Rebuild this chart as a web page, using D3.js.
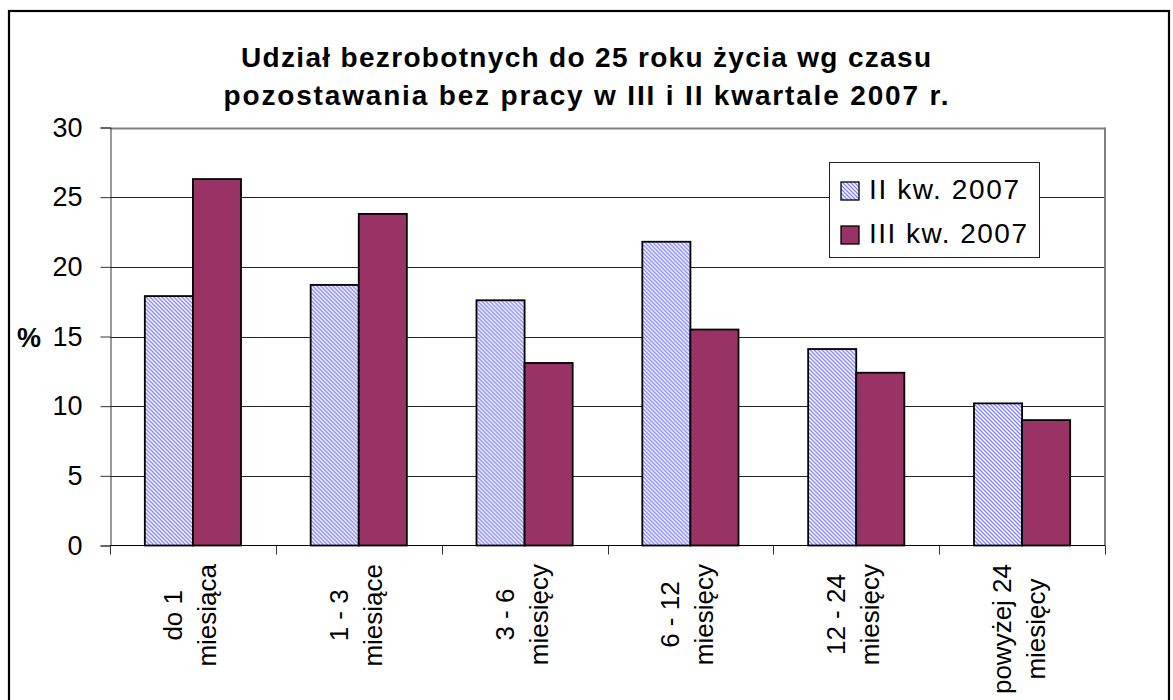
<!DOCTYPE html>
<html>
<head>
<meta charset="utf-8">
<script src="https://cdn.jsdelivr.net/npm/d3@7"></script>
<style>
  html, body { margin: 0; padding: 0; background: #fff; }
  svg { display: block; font-family: Arial, "Liberation Sans", sans-serif; }
</style>
</head>
<body>
<svg id="chart" width="1173" height="700"></svg>
<script>
const categories = [
  ["do 1", "miesiąca"],
  ["1 - 3", "miesiące"],
  ["3 - 6", "miesięcy"],
  ["6 - 12", "miesięcy"],
  ["12 - 24", "miesięcy"],
  ["powyżej 24", "miesięcy"]
];
const seriesNames = ["II kw. 2007", "III kw. 2007"];
const seriesII = [17.9, 18.7, 17.6, 21.8, 14.1, 10.2];
const seriesIII = [26.3, 23.8, 13.1, 15.5, 12.4, 9.0];
const yTicks = [0, 5, 10, 15, 20, 25, 30];
const titleLines = ["Udział bezrobotnych do 25 roku życia wg czasu", "pozostawania bez pracy w III i II kwartale 2007 r."];

const svg = d3.select("#chart");
const W = 1173, H = 700;
const plot = { left: 110, right: 1105, top: 127.5, bottom: 545.5 };

// defs: hatch pattern
const defs = svg.append("defs");
const pat = defs.append("pattern").attr("id", "hatch").attr("patternUnits", "userSpaceOnUse")
  .attr("width", 4).attr("height", 4);
pat.append("rect").attr("width", 4).attr("height", 4).attr("fill", "#fff");
pat.append("path").attr("d", "M-1,-1 L5,5 M-1,3 L1,5 M3,-1 L5,1")
  .attr("stroke", "#8080ff").attr("stroke-width", 1.3);

// background + outer border
svg.append("rect").attr("x", 0).attr("y", 0).attr("width", W).attr("height", H).attr("fill", "#fff");
svg.append("rect").attr("x", 9).attr("y", 11).attr("width", 1160).attr("height", 700)
  .attr("fill", "none").attr("stroke", "#000").attr("stroke-width", 2.2);

// title
const titleWidths = [690, 725];
svg.append("g").selectAll("text").data(titleLines).join("text")
  .attr("x", 586).attr("y", (d, i) => 67 + i * 38)
  .attr("text-anchor", "middle")
  .attr("font-size", 28).attr("font-weight", "bold").attr("fill", "#000")
  .attr("textLength", (d, i) => titleWidths[i]).attr("lengthAdjust", "spacing")
  .text(d => d);

// scales
const keys = [0, 1];
const x0 = d3.scaleBand().domain(d3.range(categories.length))
  .range([plot.left, plot.right]).paddingInner(0.42).paddingOuter(0.21);
const x1 = d3.scaleBand().domain(keys).range([0, x0.bandwidth()]);
const y = d3.scaleLinear().domain([0, 30]).range([plot.bottom, plot.top]);

// gridlines
svg.append("g").selectAll("line").data(yTicks.filter(t => t > 0)).join("line")
  .attr("x1", plot.left).attr("x2", plot.right)
  .attr("y1", d => Math.round(y(d)) + 0.5).attr("y2", d => Math.round(y(d)) + 0.5)
  .attr("stroke", d => d === 30 ? "#808080" : "#222").attr("stroke-width", d => d === 30 ? 2 : 1);

// right plot border
svg.append("line").attr("x1", plot.right).attr("x2", plot.right)
  .attr("y1", plot.top).attr("y2", plot.bottom)
  .attr("stroke", "#808080").attr("stroke-width", 2);

// bars
const values = [seriesII, seriesIII];
const fills = ["url(#hatch)", "#993366"];
const groups = svg.append("g").selectAll("g").data(categories.map((c, i) => i)).join("g")
  .attr("transform", i => `translate(${x0(i)},0)`);
groups.selectAll("rect").data(i => keys.map(k => ({ k, v: values[k][i] }))).join("rect")
  .attr("x", d => x1(d.k)).attr("width", x1.bandwidth())
  .attr("y", d => y(d.v)).attr("height", d => y(0) - y(d.v))
  .attr("fill", d => fills[d.k]).attr("stroke", "#000").attr("stroke-width", 1.8);

// y axis
const yAxis = d3.axisLeft(y).tickValues(yTicks).tickSize(10).tickPadding(18);
const gy = svg.append("g").attr("transform", `translate(${plot.left + 0.5},0)`).call(yAxis);
gy.select(".domain").attr("stroke", "#333").attr("stroke-width", 1);
gy.selectAll(".tick line").attr("stroke", "#333");
gy.selectAll(".tick text").attr("font-size", 27).attr("fill", "#000")
  .attr("font-family", "Arial, 'Liberation Sans', sans-serif");

// y title
svg.append("text").attr("x", 17).attr("y", 338).attr("dominant-baseline", "central")
  .attr("font-size", 27).attr("font-weight", "bold").text("%");

// x axis line and ticks at category boundaries
svg.append("line").attr("x1", plot.left).attr("x2", plot.right)
  .attr("y1", plot.bottom).attr("y2", plot.bottom).attr("stroke", "#000").attr("stroke-width", 1.2);
const bounds = d3.range(categories.length + 1).map(i => plot.left + i * x0.step());
svg.append("g").selectAll("line").data(bounds).join("line")
  .attr("x1", d => Math.round(d) + 0.5).attr("x2", d => Math.round(d) + 0.5)
  .attr("y1", plot.bottom).attr("y2", plot.bottom + 9)
  .attr("stroke", "#333");

// x labels (rotated, two lines, centered within block)
const xl = svg.append("g");
categories.forEach((lines, i) => {
  const cx = x0(i) + x0.bandwidth() / 2;
  const g = xl.append("g");
  const texts = lines.map((t, j) => g.append("text")
    .attr("font-size", 26).attr("text-anchor", "middle").text(t));
  const maxLen = d3.max(texts, t => t.node().getComputedTextLength());
  const cy = 564 + maxLen / 2;
  texts.forEach((t, j) => {
    t.attr("transform", `translate(${cx + (j === 0 ? -11 : 23)},${cy}) rotate(-90)`);
  });
});

// legend
const lg = svg.append("g");
lg.append("rect").attr("x", 829.5).attr("y", 162.5).attr("width", 210).attr("height", 95)
  .attr("fill", "#fff").attr("stroke", "#222").attr("stroke-width", 1);
const legendWidths = [150, 158];
seriesNames.forEach((name, k) => {
  const yy = 182 + k * 44;
  lg.append("rect").attr("x", 841).attr("y", yy).attr("width", 18).attr("height", 18)
    .attr("fill", fills[k]).attr("stroke", "#000").attr("stroke-width", 1.3);
  lg.append("text").attr("x", 869).attr("y", yy + 17).attr("font-size", 28)
    .attr("textLength", legendWidths[k]).attr("lengthAdjust", "spacing").text(name);
});
</script>
</body>
</html>
